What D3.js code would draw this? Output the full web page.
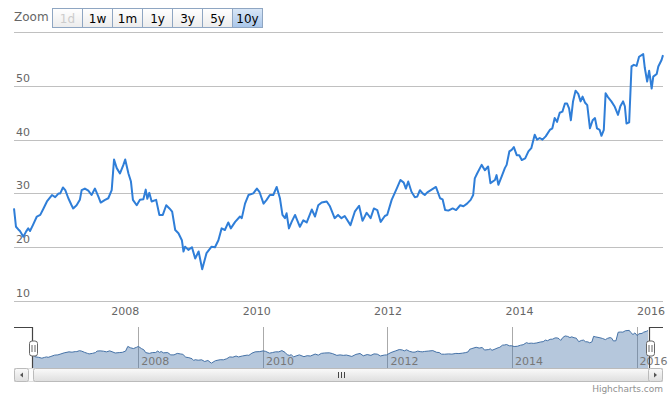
<!DOCTYPE html>
<html><head><meta charset="utf-8">
<script src="https://cdn.jsdelivr.net/npm/d3@7"></script>
<style>body{margin:0;background:#fff} svg{display:block}</style>
</head><body><svg id="c" width="671" height="394"></svg>
<script>
const dates = [
"2006-04-23","2006-05-04","2006-05-17","2006-05-26","2006-06-14","2006-06-29","2006-07-11","2006-07-21","2006-08-06","2006-08-28","2006-09-16","2006-10-04","2006-10-23","2006-11-20","2006-12-08","2006-12-27",
"2007-01-05","2007-01-20","2007-02-02","2007-02-19","2007-03-09","2007-03-18","2007-04-06","2007-04-24","2007-05-04","2007-05-22","2007-06-10","2007-06-28","2007-07-17","2007-08-05","2007-08-18","2007-09-11","2007-09-29","2007-10-18","2007-10-31","2007-11-15","2007-12-03","2007-12-22",
"2008-01-01","2008-01-19","2008-02-02","2008-02-13","2008-03-05","2008-03-23","2008-04-11","2008-04-24","2008-05-03","2008-05-14","2008-05-27","2008-06-21","2008-07-09","2008-07-28","2008-08-16","2008-09-03","2008-09-18","2008-10-05","2008-10-23","2008-11-11","2008-11-20","2008-11-29","2008-12-17",
"2009-01-06","2009-01-24","2009-02-12","2009-03-04","2009-03-28","2009-04-25","2009-05-14","2009-06-02","2009-06-20","2009-07-08","2009-07-27","2009-08-10","2009-09-03","2009-09-30","2009-10-10","2009-10-28","2009-11-16","2009-12-13",
"2010-01-02","2010-01-16","2010-02-08","2010-02-25","2010-03-15","2010-04-03","2010-04-22","2010-05-10","2010-05-24","2010-06-07","2010-06-16","2010-06-29","2010-07-14","2010-08-02","2010-08-29","2010-09-17","2010-10-06","2010-11-03","2010-11-21","2010-12-09","2010-12-28",
"2011-01-25","2011-02-12","2011-03-10","2011-03-29","2011-04-17","2011-05-05","2011-06-06","2011-06-30","2011-07-24","2011-08-12","2011-09-04","2011-09-26","2011-10-14","2011-11-02","2011-11-21","2011-12-14","2011-12-27",
"2012-01-21","2012-02-18","2012-03-10","2012-03-28","2012-04-09","2012-04-22","2012-05-10","2012-05-29","2012-06-11","2012-06-26","2012-07-11","2012-07-23","2012-08-06","2012-08-30","2012-09-23","2012-10-16","2012-10-30","2012-11-13","2012-12-01","2012-12-25",
"2013-01-13","2013-02-05","2013-02-23","2013-03-15","2013-04-04","2013-04-18","2013-04-27","2013-05-10","2013-06-04","2013-06-22","2013-07-10","2013-07-23","2013-08-17","2013-08-26","2013-09-05","2013-09-23","2013-10-11","2013-10-21","2013-11-05","2013-11-18","2013-11-30","2013-12-16","2013-12-30",
"2014-01-13","2014-02-01","2014-02-19","2014-03-07","2014-03-26","2014-04-08","2014-04-23","2014-05-08","2014-05-26","2014-06-18","2014-07-02","2014-07-15","2014-07-28","2014-08-12","2014-08-27","2014-09-10","2014-09-22","2014-10-03","2014-10-13","2014-10-25","2014-11-08","2014-11-23","2014-12-06","2014-12-17","2014-12-30",
"2015-01-12","2015-01-27","2015-02-11","2015-02-24","2015-03-07","2015-03-22","2015-04-01","2015-04-14","2015-04-24","2015-05-07","2015-05-26","2015-06-14","2015-07-02","2015-07-15","2015-07-30","2015-08-09","2015-08-18","2015-09-02","2015-09-15","2015-09-28","2015-10-13","2015-10-27","2015-11-19","2015-11-28","2015-12-11","2015-12-22",
"2016-01-05","2016-01-14","2016-02-02","2016-02-11","2016-02-29","2016-03-08"];
const values = [
27.2,23.8,23.3,23.0,21.95,22.9,23.5,23.0,24.1,25.7,26.0,27.2,28.5,29.7,29.3,30.0,
30.0,31.1,30.6,29.1,27.8,27.2,27.8,28.8,30.6,30.9,30.5,29.7,30.9,29.4,28.3,28.8,29.1,30.6,36.3,34.7,33.7,35.3,
36.3,33.7,32.2,28.8,27.8,28.8,28.9,30.7,29.0,30.1,28.5,28.8,26.0,26.0,27.8,27.2,26.6,23.2,22.6,21.3,19.2,20.1,19.5,
20.0,17.9,19.2,15.9,18.9,20.1,20.0,21.3,23.5,23.2,24.6,23.5,24.7,25.7,25.4,28.1,29.7,30.0,
30.9,30.3,28.1,28.8,29.7,29.7,31.2,29.1,26.0,25.4,26.3,23.5,24.7,26.0,23.8,25.0,24.6,27.0,25.7,27.8,28.3,
28.5,27.6,25.4,26.0,25.4,25.8,24.1,26.6,27.7,24.9,26.4,25.4,27.2,26.9,24.7,25.8,26.0,
28.8,30.9,32.5,32.0,30.9,32.2,30.3,29.3,29.4,30.6,30.0,29.7,30.2,30.7,31.2,29.1,28.9,26.9,26.8,27.2,
26.9,27.8,27.6,28.1,28.8,29.7,32.8,33.7,35.3,34.3,35.0,31.9,32.5,33.4,31.6,33.1,34.7,35.3,37.8,38.1,38.6,37.1,37.1,
36.2,36.5,37.8,38.4,40.9,40.0,40.3,40.0,40.6,41.8,42.1,44.0,43.3,45.0,45.2,46.7,46.7,45.8,43.6,47.1,49.1,48.5,47.1,48.0,46.9,
46.4,42.1,43.6,44.0,42.1,41.8,40.7,41.8,48.6,47.9,47.1,46.1,44.6,46.2,47.1,46.2,43.0,43.2,53.6,53.9,53.7,55.4,55.9,53.3,50.8,52.8,
49.5,51.7,52.2,53.6,54.8,55.7];
const yTicks = [10,20,30,40,50,60];
const xTickYears = [2008,2010,2012,2014,2016];
const zoomButtons = ["1d","1w","1m","1y","3y","5y","10y"];
const selectedButton = "10y";
const disabledButton = "1d";

const parse = d3.timeParse("%Y-%m-%d");
const data = dates.map((d,i)=>({date:parse(d), value:values[i]}));
const font = "'DejaVu Sans', Verdana, sans-serif";
const svg = d3.select("#c");

// defs
const defs = svg.append("defs");
function grad(id, c1, c2){
  const g = defs.append("linearGradient").attr("id",id).attr("x1",0).attr("y1",0).attr("x2",0).attr("y2",1);
  g.append("stop").attr("offset","0%").attr("stop-color",c1);
  g.append("stop").attr("offset","100%").attr("stop-color",c2);
}
grad("btn","#ffffff","#ececec");
grad("btnSel","#d9e7f7","#a9c6ea");
grad("sb","#fafafa","#dedede");

// ---- main chart
const L = 14, R = 663, T = 32, B = 301;
const x = d3.scaleTime().domain(d3.extent(data, d=>d.date)).range([L, R]);
const y = d3.scaleLinear().domain([10,60]).range([B, T]);

const grid = svg.append("g");
grid.selectAll("line").data(yTicks).join("line")
  .attr("x1",L).attr("x2",R).attr("y1",d=>Math.round(y(d))+0.5).attr("y2",d=>Math.round(y(d))+0.5)
  .attr("stroke","#c0c0c0").attr("stroke-width",1);
grid.selectAll("text").data(yTicks.filter(t=>t<60)).join("text")
  .attr("x",16).attr("y",d=>y(d)-4).text(d=>d)
  .attr("font-family",font).attr("font-size","11px").attr("fill","#666");

const xTicks = xTickYears.map(yr=>new Date(yr,0,1));
svg.append("g").selectAll("text").data(xTicks).join("text")
  .attr("x",d=>x(d)).attr("y",315).attr("text-anchor","middle").text(d=>d3.timeFormat("%Y")(d))
  .attr("font-family",font).attr("font-size","11px").attr("fill","#666");

svg.append("path").datum(data)
  .attr("d", d3.line().x(d=>x(d.date)).y(d=>y(d.value)))
  .attr("fill","none").attr("stroke","#2f7ed8").attr("stroke-width",2).attr("stroke-linejoin","round");

// ---- range selector
svg.append("text").attr("x",14).attr("y",21).text("Zoom")
  .attr("font-family",font).attr("font-size","12px").attr("fill","#666");
const bw = 30;
const btn = svg.append("g").selectAll("g").data(zoomButtons).join("g")
  .attr("transform",(d,i)=>`translate(${52.5+i*bw},8.5)`);
btn.append("rect").attr("width",bw).attr("height",19)
  .attr("fill",d=>d===selectedButton?"url(#btnSel)":"url(#btn)")
  .attr("stroke","#8fa6c2").attr("stroke-width",1);
btn.append("text").attr("x",bw/2).attr("y",14.5).attr("text-anchor","middle").text(d=>d)
  .attr("font-family",font).attr("font-size","12px")
  .attr("fill",d=>d===disabledButton?"#cccccc":"#000");

// ---- navigator
const NL = 33, NR = 648, NT = 327, NB = 368;
const nx = d3.scaleTime().domain(d3.extent(data, d=>d.date)).range([NL, NR]);
const ny = d3.scaleLinear().domain([10,60]).range([NB, NT]);
const nav = svg.append("g");
nav.selectAll("line").data(xTicks).join("line")
  .attr("x1",d=>Math.round(nx(d))+0.5).attr("x2",d=>Math.round(nx(d))+0.5).attr("y1",NT).attr("y2",NB)
  .attr("stroke","#aaa");
nav.append("path").datum(data)
  .attr("d", d3.area().x(d=>nx(d.date)).y0(NB).y1(d=>ny(d.value)))
  .attr("fill","#4572a7").attr("fill-opacity",0.4);
nav.append("path").datum(data)
  .attr("d", d3.line().x(d=>nx(d.date)).y(d=>ny(d.value)))
  .attr("fill","none").attr("stroke","#4572a7").attr("stroke-width",1);
nav.selectAll("text").data(xTicks).join("text")
  .attr("x",d=>nx(d)+3).attr("y",365).text(d=>d3.timeFormat("%Y")(d))
  .attr("font-family",font).attr("font-size","11px").attr("fill","#777");

// outline
const hl = NL-0.5, hr = NR+1.5;
nav.append("path")
  .attr("d",`M${L},${NT+0.5}H${hl}V${NB}M${hr},${NB}V${NT+0.5}H${R}`)
  .attr("fill","none").attr("stroke","#444").attr("stroke-width",1.2);
[hl,hr].forEach(hx=>{
  const g = nav.append("g").attr("transform",`translate(${Math.round(hx)+0.5},341)`);
  g.append("rect").attr("x",-4).attr("y",0).attr("width",8).attr("height",15).attr("rx",2.5)
    .attr("fill","#fff").attr("stroke","#666");
  g.append("path").attr("d","M-1.5,4V11M1.5,4V11").attr("stroke","#666");
});

// scrollbar
const ST = 368.5, SH = 13;
const sb = svg.append("g");
sb.append("rect").attr("x",L+0.5).attr("y",ST).attr("width",R-L-1).attr("height",SH)
  .attr("fill","#fbfbfb").attr("stroke","#ddd");
sb.append("rect").attr("x",Math.round(hl)+0.5).attr("y",ST).attr("width",Math.round(hr)-Math.round(hl)).attr("height",SH).attr("rx",2)
  .attr("fill","url(#sb)").attr("stroke","#bbb");
const gx = Math.round((hl+hr)/2)+0.5;
sb.append("path").attr("d",`M${gx-3},372V378M${gx},372V378M${gx+3},372V378`).attr("stroke","#444");
[[L+0.5,"l"],[R-14.5,"r"]].forEach(([bx,dir])=>{
  sb.append("rect").attr("x",bx).attr("y",ST).attr("width",14).attr("height",SH).attr("rx",2)
    .attr("fill","url(#sb)").attr("stroke","#bbb");
  const cx = bx+7, cy = ST+SH/2;
  sb.append("path").attr("d", dir==="l" ? `M${cx+1.5},${cy-2.5}L${cx-1.5},${cy}L${cx+1.5},${cy+2.5}Z` : `M${cx-1.5},${cy-2.5}L${cx+1.5},${cy}L${cx-1.5},${cy+2.5}Z`)
    .attr("fill","#555");
});

// credits
svg.append("text").attr("x",663).attr("y",392).attr("text-anchor","end").text("Highcharts.com")
  .attr("font-family",font).attr("font-size","9px").attr("fill","#909090");
</script></body></html>
